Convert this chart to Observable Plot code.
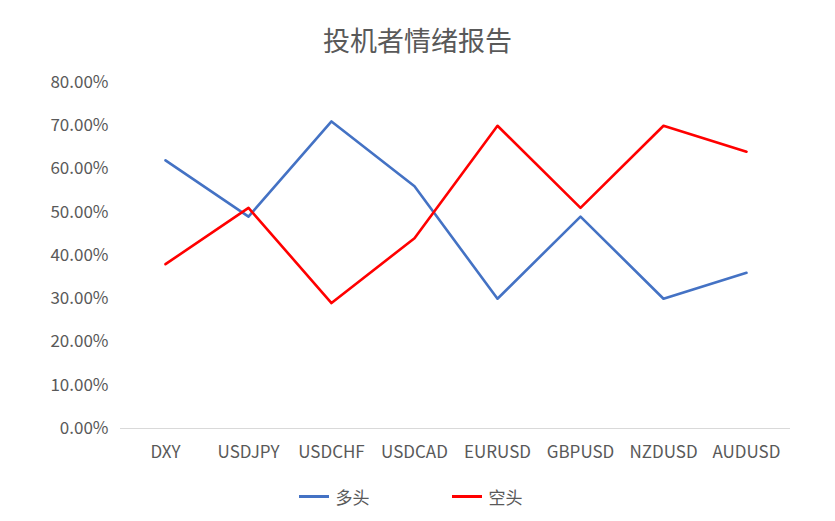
<!DOCTYPE html>
<html><head><meta charset="utf-8">
<script src="https://cdn.jsdelivr.net/npm/d3@7"></script>
<script src="https://cdn.jsdelivr.net/npm/@observablehq/plot@0.6"></script>
<style>
html,body{margin:0;background:#fff;overflow:hidden;font-family:"Noto Sans CJK SC","Noto Sans",sans-serif;}
#wrap{width:835px;}
#title{height:62px;box-sizing:border-box;padding-top:22px;text-align:center;font-size:27px;line-height:36px;color:#595959;}
#chart svg{display:block;}
#legend{display:flex;justify-content:center;font-size:17px;color:#595959;height:40px;align-items:center;margin-top:4px;padding-right:14px;}
.item{display:flex;align-items:center;margin:0 41px;}
.sw{width:30px;height:3px;margin-right:7px;}
</style></head>
<body><div id="wrap">
<div id="title">投机者情绪报告</div>
<div id="chart"></div>
<div id="legend"></div>
</div>
<script>
const categories = ["DXY","USDJPY","USDCHF","USDCAD","EURUSD","GBPUSD","NZDUSD","AUDUSD"];
const longValues = [0.62,0.49,0.71,0.56,0.30,0.49,0.30,0.36];
const shortValues = [0.38,0.51,0.29,0.44,0.70,0.51,0.70,0.64];
const seriesNames = ["多头","空头"];
const colors = ["#4472C4","#FF0000"];
const yTicks = [0,0.1,0.2,0.3,0.4,0.5,0.6,0.7,0.8];

const data = [];
categories.forEach((c,i)=>{
  data.push({cat:c, series:seriesNames[0], v:longValues[i]});
  data.push({cat:c, series:seriesNames[1], v:shortValues[i]});
});

const chart = Plot.plot({
  width:835, height:410,
  marginTop:20, marginBottom:44, marginLeft:120, marginRight:45,
  style:{fontFamily:'"Noto Sans CJK SC","Noto Sans",sans-serif', fontSize:"17px", color:"#595959"},
  x:{type:"point", domain:categories, padding:0.5, label:null},
  y:{domain:[0,0.8], ticks:yTicks, tickFormat:d=>(d*100).toFixed(2)+"%", label:null},
  color:{domain:seriesNames, range:colors},
  marks:[
    Plot.axisY({ticks:yTicks, tickFormat:d=>(d*100).toFixed(2)+"%", tickSize:0, tickPadding:12, label:null, fill:"#595959"}),
    Plot.axisX({tickSize:0, tickPadding:17, label:null, fill:"#595959"}),
    Plot.ruleY([0],{stroke:"#d9d9d9", strokeWidth:1}),
    Plot.line(data,{x:"cat", y:"v", z:"series", stroke:"series", strokeWidth:2.6, curve:"linear"})
  ]
});
document.getElementById("chart").appendChild(chart);

const lg = document.getElementById("legend");
seriesNames.forEach((n,i)=>{
  const it=document.createElement("div"); it.className="item";
  const sw=document.createElement("div"); sw.className="sw"; sw.style.background=colors[i];
  const t=document.createElement("span"); t.textContent=n;
  it.appendChild(sw); it.appendChild(t); lg.appendChild(it);
});
</script>
</body></html>
